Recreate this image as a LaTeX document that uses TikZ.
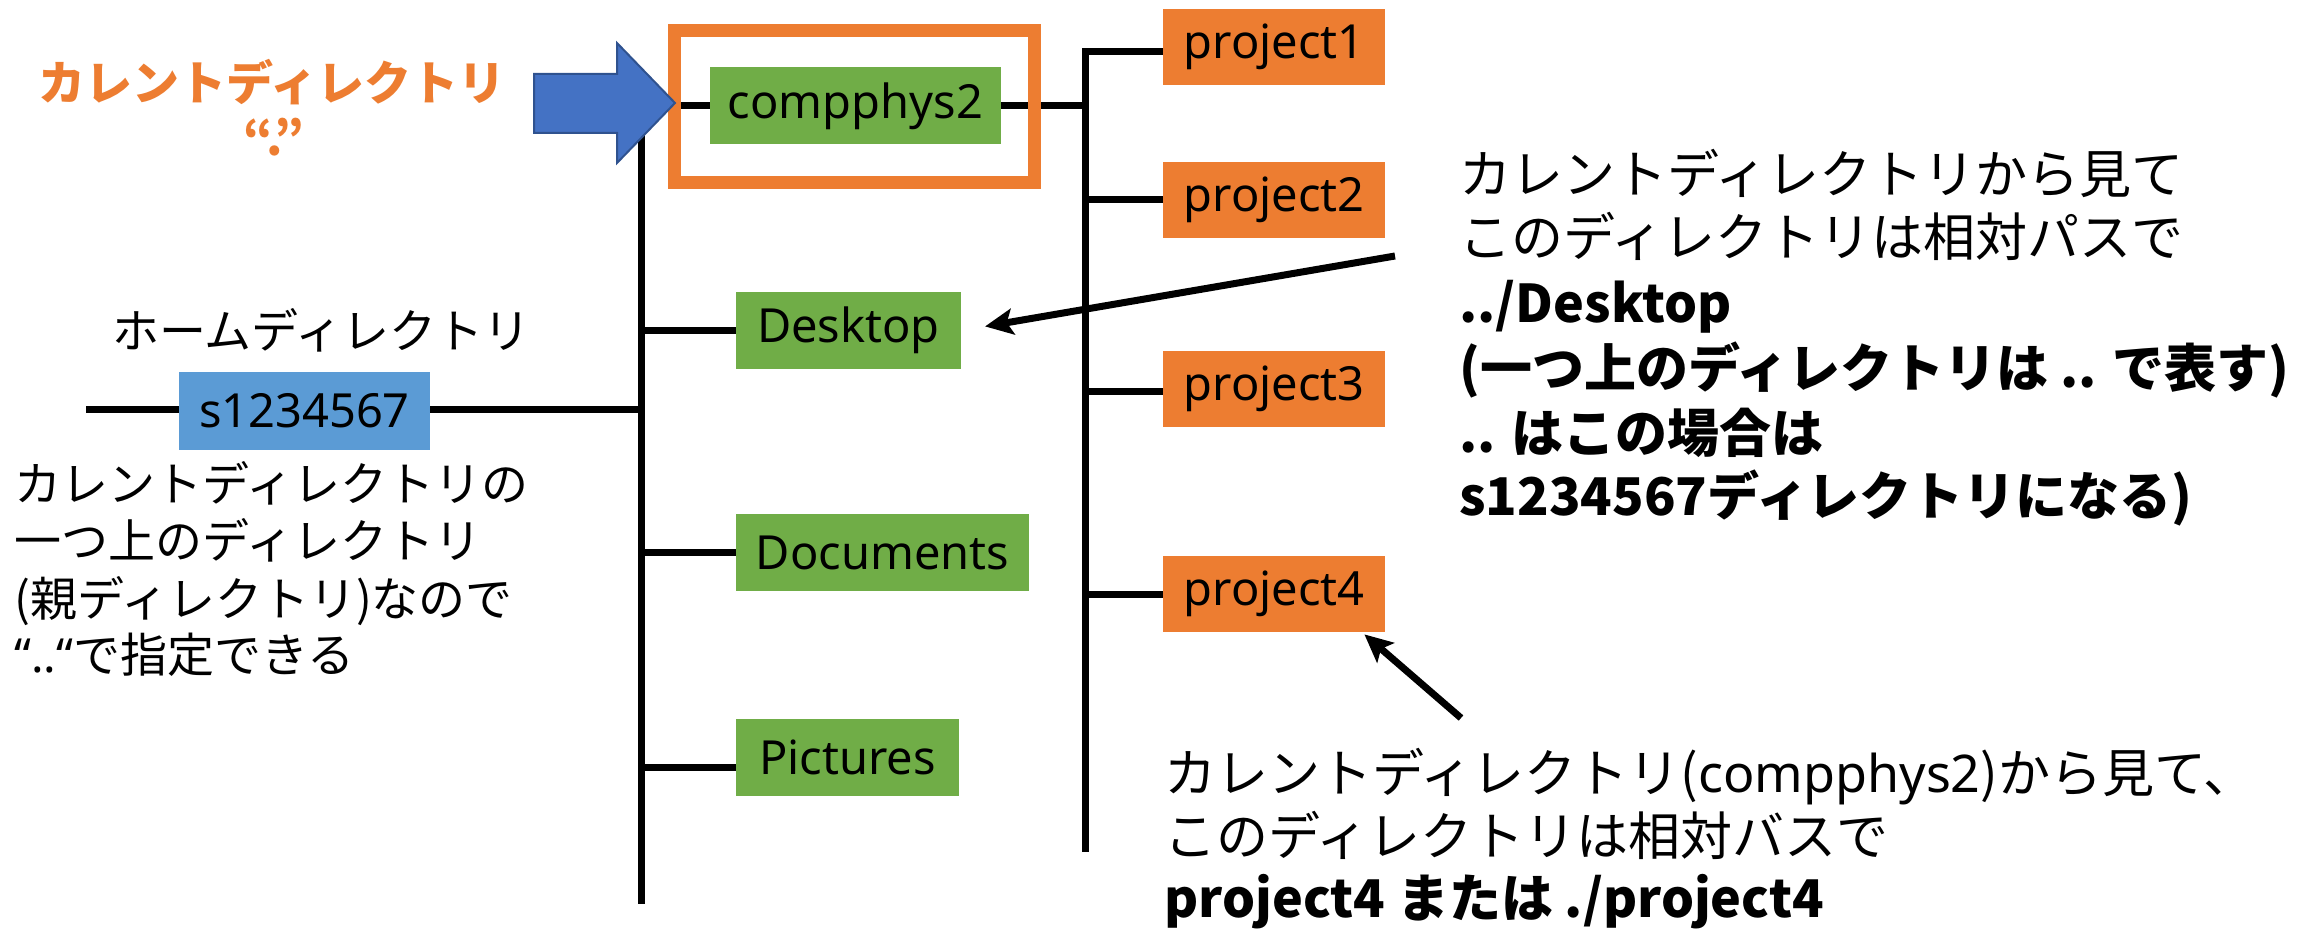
\documentclass[tikz,border=0pt]{standalone}
\usepackage{fontspec}
\setmainfont{Noto Sans CJK JP}
\newfontfamily\lat{Noto Sans}
\usetikzlibrary{arrows.meta}

\definecolor{dirgreen}{HTML}{70AD47}
\definecolor{dirorange}{HTML}{ED7D31}
\definecolor{dirblue}{HTML}{5B9BD5}
\definecolor{pointerblue}{HTML}{4472C4}
\definecolor{pointeredge}{HTML}{2F528F}

\tikzset{
  dirbox/.style={inner sep=0pt, minimum height=38.5pt,
    font=\lat\fontsize{23.5pt}{28pt}\selectfont},
  greenbox/.style={dirbox, fill=dirgreen},
  projbox/.style={dirbox, fill=dirorange, minimum width=111pt, minimum height=38pt},
  tree/.style={line width=3.5pt, black},
  callout/.style={line width=3.5pt, black, -{Stealth[length=14pt,width=13pt,inset=3pt]}},
  note/.style={anchor=base west, inner sep=0pt, font=\fontsize{23.5pt}{28pt}\selectfont},
  bignote/.style={anchor=base west, inner sep=0pt, font=\fontsize{26pt}{32pt}\selectfont},
  boldnote/.style={bignote, font=\bfseries\fontsize{26pt}{32pt}\selectfont},
}

\begin{document}
\begin{tikzpicture}[x=0.5pt, y=-0.5pt]
\useasboundingbox (0,0) rectangle (2323,930);

% tree trunks
\coordinate (ltTop) at (641,106);
\coordinate (ltBot) at (641,904);
\coordinate (rtTop) at (1085,52);
\coordinate (rtBot) at (1085,852);
\coordinate (homeL) at (86,410);

% directory boxes
\node[greenbox, minimum width=145.5pt] (cp2) at (855.5,106) {compphys2};
\node[greenbox, minimum width=112.5pt] (desk) at (848.5,330.5) {Desktop};
\node[greenbox, minimum width=146.5pt] (docs) at (882.5,552.5) {Documents};
\node[greenbox, minimum width=111.5pt] (pics) at (847.5,757) {Pictures};
\node[dirbox, fill=dirblue, minimum width=125.5pt] (home) at (304.5,411) {s1234567};
\node[projbox] (p1) at (1274,47) {project1};
\node[projbox] (p2) at (1274,200) {project2};
\node[projbox] (p3) at (1274,389) {project3};
\node[projbox] (p4) at (1274,594) {project4};

% connectors
\draw[tree] (ltTop) -- (ltBot);
\draw[tree] (ltTop) -- (ltTop -| cp2.west);
\draw[tree] (cp2.east) -- (cp2.east -| rtTop);
\draw[tree] (rtTop -| p1.west) -- (rtTop) -- (rtBot);
\draw[tree] (p2.west -| rtTop) -- (p2.west);
\draw[tree] ([yshift=-1.5pt]p3.west -| rtTop) -- ([yshift=-1.5pt]p3.west);
\draw[tree] (p4.west -| rtTop) -- (p4.west);
\draw[tree] (desk.west -| ltTop) -- (desk.west);
\draw[tree] (docs.west -| ltTop) -- (docs.west);
\draw[tree] ([yshift=-5pt]pics.west -| ltTop) -- ([yshift=-5pt]pics.west);
\draw[tree] (homeL) -- (homeL -| home.west);
\draw[tree] (homeL -| home.east) -- (homeL -| ltTop);

% current directory frame and pointer
\node[draw=dirorange, line width=6.5pt, inner sep=0pt,
      minimum width=180pt, minimum height=76pt] (cur) at (854,107) {};
\fill[pointerblue, draw=pointeredge, line width=1pt]
  (534,74) -- (617,74) -- (617,43) -- (675,103) -- (617,163) -- (617,133) -- (534,133) -- cycle;

% labels on the left
\node[anchor=base, inner sep=0pt, text=dirorange,
      font=\bfseries\fontsize{23.5pt}{28pt}\selectfont] (curlbl) at (272,101) {カレントディレクトリ};
\node[anchor=base, inner sep=0pt, text=dirorange,
      font=\bfseries\fontsize{23.5pt}{28pt}\selectfont] (curdot) at (274,156) {“.”};
\node[note] (homelbl) at (112,349) {ホームディレクトリ};
\node[note] (up1) at (14,501) {カレントディレクトリの};
\node[note] (up2) at (14,558) {一つ上のディレクトリ};
\node[note] (up3) at (14,616) {(親ディレクトリ)なので};
\node[note] (up4) at (14,672) {{\lat “..“}で指定できる};

% note on Desktop
\node[bignote] (dk1) at (1459,194) {カレントディレクトリから見て};
\node[bignote] (dk2) at (1459,257) {このディレクトリは相対パスで};
\node[boldnote] (dk3) at (1459,323) {../Desktop};
\node[boldnote] (dk4) at (1459,388) {(一つ上のディレクトリは .. で表す)};
\node[boldnote] (dk5) at (1459,452) {.. はこの場合は};
\node[boldnote] (dk6) at (1459,515) {s1234567ディレクトリになる)};
\coordinate (dkFrom) at (1395,256);
\draw[callout, shorten >=12pt] (dkFrom) -- (desk.east);

% note on project4
\node[bignote] (pj1) at (1164,792) {カレントディレクトリ({\lat compphys2})から見て、};
\node[bignote] (pj2) at (1164,855) {このディレクトリは相対バスで};
\node[boldnote] (pj3) at (1164,917) {project4 または ./project4};
\coordinate (pjFrom) at (1461,718);
\draw[callout] (pjFrom) -- ([xshift=-10.5pt,yshift=-1pt]p4.south east);
\end{tikzpicture}
\end{document}
